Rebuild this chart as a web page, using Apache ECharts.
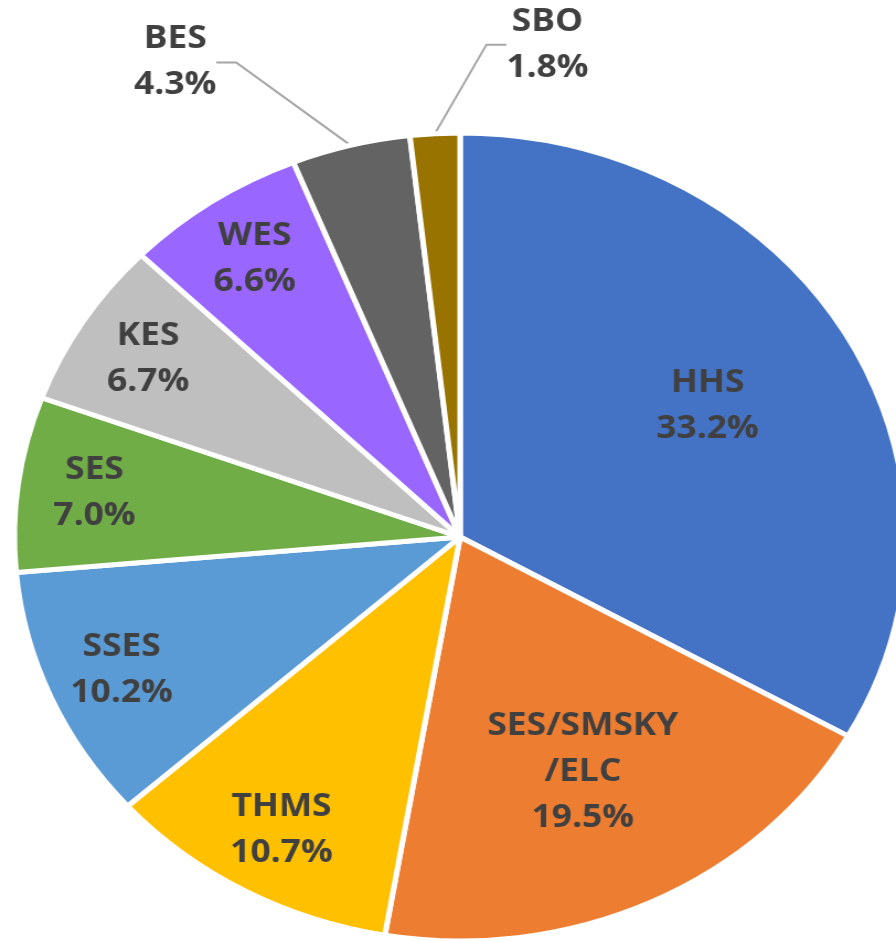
<!DOCTYPE html>
<html><head><meta charset="utf-8">
<script src="https://cdn.jsdelivr.net/npm/echarts@6/dist/echarts.min.js"></script>
<style>
html,body{margin:0;padding:0;background:#fff;overflow:hidden}
#wrap{width:896px;height:941px;overflow:hidden;position:relative}
#chart{width:812px;height:941px;transform:scaleX(1.1034);transform-origin:0 0}
</style></head><body><div id="wrap"><div id="chart"></div></div>
<script>
// data
const categories = ['HHS', 'SES/SMSKY/ELC', 'THMS', 'SSES', 'SES', 'KES', 'WES', 'BES', 'SBO'];
const values = [33.2, 19.5, 10.7, 10.2, 7.0, 6.7, 6.6, 4.3, 1.8];
const colors = ['#4472C4', '#ED7D31', '#FFC000', '#5B9BD5', '#70AD47', '#BFBFBF', '#9966FF', '#636363', '#997300'];

// layout (not data)
const CX = 417, CY = 537, R = 404;
const outsideOffsets = { 'BES': [-159, -83], 'SBO': [102, -89] };

function wrapName(n) {
  if (n.length > 9) { const i = n.lastIndexOf('/'); return n.slice(0, i) + '\n' + n.slice(i); }
  return n;
}
function fmt(p) { return wrapName(p.name) + '\n' + p.value.toFixed(1) + '%'; }

const textStyle = {
  fontFamily: 'Open Sans', fontWeight: 'bold', fontSize: 32, lineHeight: 46, color: '#404040'
};

function mainData() {
  return categories.map((c, i) => ({
    name: c, value: values[i],
    itemStyle: { color: colors[i] },
    label: values[i] < 5 ? Object.assign({ show: true, position: 'outside', formatter: fmt, align: 'center' }, textStyle) : { show: false },
    labelLine: { show: values[i] < 5 }
  }));
}
function labelData(test) {
  return categories.map((c, i) => ({
    name: c, value: values[i],
    label: { show: test(values[i]) }
  }));
}
const hiddenBase = {
  type: 'pie', silent: true, startAngle: 90, clockwise: true,
  center: [CX, CY],
  itemStyle: { color: 'rgba(0,0,0,0)', borderWidth: 0 },
  emphasis: { disabled: true },
  labelLine: { show: false },
  label: Object.assign({ position: 'inside', formatter: fmt, align: 'center' }, textStyle),
  avoidLabelOverlap: false
};

const chart = echarts.init(document.getElementById('chart'), null, { renderer: 'canvas' });
chart.setOption({
  animation: false,
  backgroundColor: '#fff',
  series: [
    {
      type: 'pie', startAngle: 90, clockwise: true,
      center: [CX, CY], radius: R,
      avoidLabelOverlap: false,
      itemStyle: { borderColor: '#fff', borderWidth: 5 },
      emphasis: { disabled: true },
      labelLine: { length: 20, length2: 18, lineStyle: { color: '#A6A6A6', width: 2 } },
      labelLayout: function (p) {
        const name = categories[p.dataIndex];
        const off = outsideOffsets[name];
        if (!off || !p.labelLinePoints) return {};
        const pt = p.labelLinePoints[0];
        return { x: pt[0] + off[0], y: pt[1] + off[1], align: 'center', verticalAlign: 'middle' };
      },
      data: mainData()
    },
    Object.assign({}, hiddenBase, { radius: [R * 0.27, R], data: labelData(v => v >= 15) }),
    Object.assign({}, hiddenBase, { radius: [R * 0.64, R], data: labelData(v => v >= 5 && v < 15) })
  ]
});
</script></body></html>
